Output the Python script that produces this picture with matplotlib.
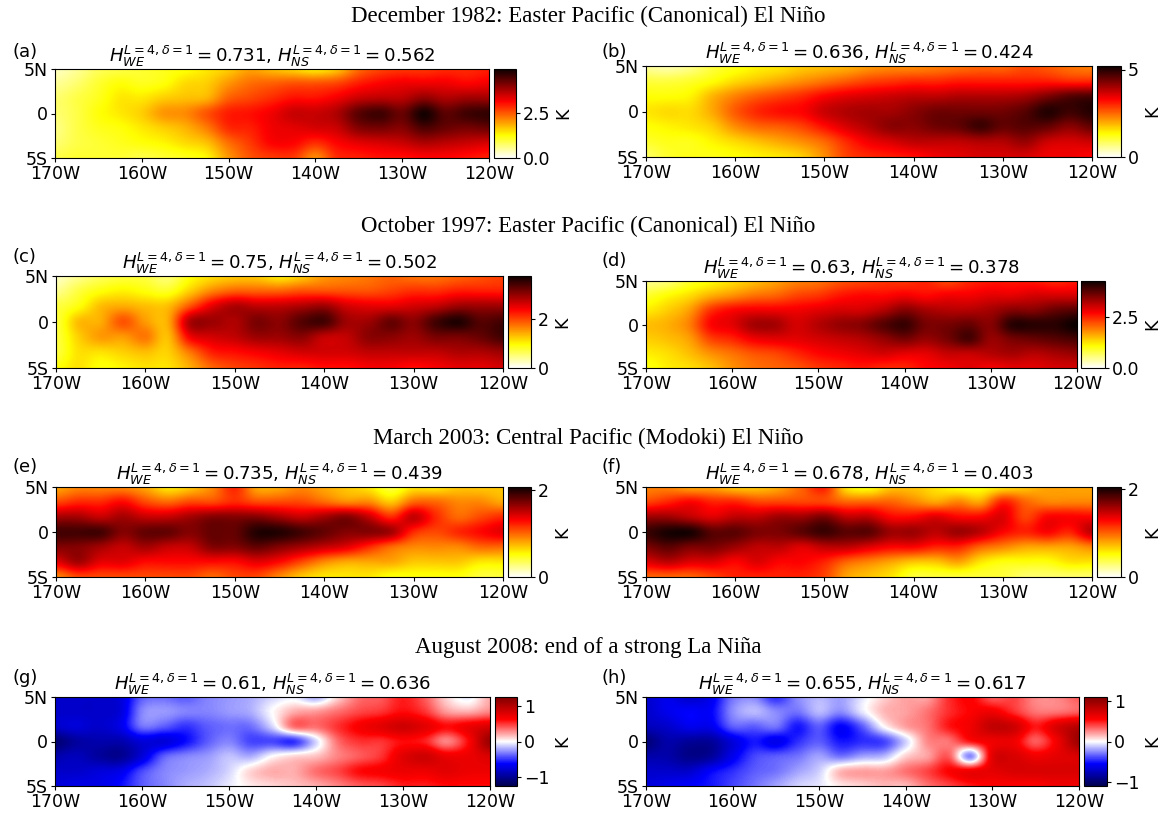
import numpy as np
import matplotlib
matplotlib.use('Agg')
import matplotlib.pyplot as plt

W, H = 1171, 816

# longitudes 170W..120W every 2.5 deg, latitudes 5N..5S (K)
lons = [-170 + 2.5*i for i in range(21)]
lats = [5, 3.33, 1.67, 0, -1.67, -3.33, -5]

sst_a = [
[.3,.5,.8,.9,1.0,1.1,1.2,1.4,1.6,1.9,1.7,1.5,1.3,1.6,2.3,2.6,2.7,2.7,2.8,2.8,2.9],
[.5,.7,1.0,1.2,1.1,1.2,1.5,1.6,2.0,2.3,2.4,2.5,2.5,2.6,2.9,3.1,3.2,3.2,3.2,3.1,3.2],
[.7,.9,1.1,1.4,1.4,1.6,1.7,1.8,2.4,2.6,2.8,3.0,3.0,3.2,3.5,3.6,3.6,3.9,3.7,3.8,3.8],
[.7,.9,1.2,1.4,1.6,2.0,2.1,2.5,2.9,3.0,3.2,3.5,3.5,3.7,4.3,4.5,4.2,4.8,4.3,4.5,4.6],
[.6,.9,1.1,1.2,1.4,1.6,1.8,2.2,2.8,2.9,3.2,3.3,3.4,3.5,4.0,4.1,4.0,4.4,4.2,4.1,4.2],
[.7,.9,1.0,1.1,1.2,1.3,1.5,1.7,2.3,2.7,3.1,3.1,2.8,3.1,3.3,3.4,3.5,3.7,3.6,3.5,3.4],
[.9,1.0,1.0,1.0,.9,1.0,1.1,1.3,2.0,2.5,2.7,2.7,2.1,2.8,2.9,3.0,3.0,3.1,3.1,3.0,2.9]]
sst_b = [
[.5,.4,.6,1.0,1.2,1.4,1.5,1.7,1.8,1.9,2.1,2.2,2.2,2.3,2.4,2.5,2.5,2.7,2.6,2.4,2.3],
[1.0,1.0,1.1,1.3,1.6,1.8,2.0,2.2,2.4,2.6,2.8,2.9,3.0,3.0,3.1,3.1,3.1,3.1,3.1,3.0,3.0],
[1.3,1.3,1.4,1.9,2.3,2.6,2.8,3.0,3.3,3.5,3.6,3.7,3.8,3.8,3.9,3.9,3.9,4.0,4.3,4.6,4.7],
[1.5,1.6,1.6,2.0,2.6,3.0,3.2,3.3,3.7,3.9,4.0,4.0,4.2,4.4,4.4,4.4,4.4,4.6,5.0,4.8,5.0],
[1.3,1.4,1.5,1.7,2.2,2.5,2.6,2.8,3.2,3.6,3.9,4.2,4.2,4.4,4.5,4.8,4.5,4.6,4.5,4.2,4.5],
[1.1,1.2,1.2,1.4,1.6,1.8,2.0,2.2,2.5,3.0,3.4,3.6,3.8,3.8,3.8,3.9,3.9,4.1,3.7,3.6,3.7],
[.8,1.1,1.2,1.2,1.3,1.4,1.5,1.7,2.2,2.8,3.0,3.1,3.2,3.4,3.5,3.6,3.6,3.6,3.4,3.4,3.3]]
sst_c = [
[.2,.4,.6,.7,.7,.5,.9,1.1,1.2,1.2,1.0,1.2,1.5,1.6,1.7,1.8,1.7,1.7,1.8,1.9,2.0],
[.4,.7,.9,1.0,.9,.8,1.2,1.6,1.8,1.8,1.8,1.9,1.9,1.9,1.9,2.0,2.1,2.1,2.2,2.2,2.2],
[.7,.9,1.3,1.4,1.3,1.3,1.9,2.5,2.8,2.7,2.7,2.8,2.9,2.6,2.5,2.5,2.6,2.7,2.9,2.9,2.9],
[.7,1.3,1.4,1.9,1.5,1.4,2.8,2.9,2.8,3.1,3.0,3.3,3.4,2.9,2.9,3.2,3.0,3.4,3.6,3.3,3.4],
[.7,1.2,1.5,1.5,1.7,1.3,2.4,2.6,2.7,2.9,2.9,3.0,2.7,2.7,3.0,3.0,2.9,3.1,3.1,3.2,3.4],
[.7,1.1,1.1,1.2,1.3,1.2,1.7,2.2,2.3,2.4,2.5,2.6,2.6,2.6,2.7,2.7,2.7,2.7,2.8,2.8,2.9],
[.9,1.1,.9,1.0,1.1,1.1,1.4,1.8,2.0,2.1,2.2,2.2,2.3,2.3,2.4,2.4,2.3,2.4,2.5,2.5,2.6]]
sst_d = [
[.5,.6,.9,1.1,1.3,1.5,1.7,1.9,2.0,2.2,2.3,2.4,2.4,2.5,2.3,2.5,2.6,2.6,2.6,2.5,2.6],
[.9,1.1,1.3,1.6,1.8,2.0,2.1,2.3,2.4,2.6,2.7,2.7,2.8,2.7,2.8,2.8,2.9,2.9,3.0,3.0,3.0],
[1.2,1.4,1.7,2.4,2.7,2.8,2.8,2.8,2.9,3.0,3.0,3.2,3.5,3.3,3.2,3.2,3.3,3.5,3.5,3.7,3.8],
[1.5,1.6,1.9,2.7,2.9,3.3,3.3,3.0,3.2,3.4,3.5,3.8,4.0,3.6,3.6,3.7,3.5,4.1,4.1,4.1,4.3],
[1.4,1.5,1.7,2.3,2.5,2.8,2.9,2.9,3.0,3.1,3.2,3.4,3.6,3.4,3.6,3.9,3.4,3.6,3.7,3.8,3.9],
[1.2,1.3,1.5,1.8,2.0,2.2,2.3,2.5,2.7,2.8,2.9,3.0,2.9,2.9,3.1,3.1,3.2,3.3,3.2,3.3,3.4],
[1.0,1.2,1.3,1.5,1.8,2.0,2.1,2.2,2.4,2.5,2.6,2.5,2.5,2.7,2.8,2.9,2.8,2.9,2.9,3.0,3.0]]
sst_e = [
[.8,.9,.9,.9,.8,.6,.7,.9,1.2,.8,.8,.9,.8,.7,.6,.4,.6,.6,.7,.7,.7],
[1.1,1.2,1.2,1.3,1.1,1.0,1.1,1.1,1.2,1.1,1.1,1.1,1.0,.9,.9,.7,1.0,1.0,.9,.9,.8],
[1.6,1.6,1.5,1.6,1.5,1.5,1.6,1.7,1.7,1.7,1.6,1.5,1.6,1.7,1.5,1.2,1.5,1.2,1.0,1.1,1.2],
[1.9,1.9,1.9,1.7,1.8,1.8,1.7,1.8,1.8,2.0,2.0,1.9,1.8,1.7,1.7,1.6,1.2,1.1,1.2,1.3,1.4],
[1.7,1.7,1.6,1.5,1.6,1.5,1.5,1.7,1.7,1.8,1.7,1.6,1.5,1.4,1.2,1.0,.9,.9,.9,1.0,1.0],
[1.4,1.6,1.4,1.4,1.3,1.3,1.3,1.3,1.3,1.4,1.3,1.1,.9,.8,.8,.8,.7,.7,.7,.6,.6],
[.9,1.1,1.1,1.1,1.1,1.1,1.1,1.0,1.1,1.1,.9,.7,.6,.6,.6,.5,.5,.5,.5,.4,.4]]
sst_f = [
[.9,.9,.8,.8,.7,.7,.8,1.0,1.2,.6,.5,.7,.7,.6,.5,.5,.6,.7,.8,.8,.8],
[1.1,1.2,1.3,1.2,1.2,1.1,1.1,1.1,1.1,1.0,1.0,1.0,.9,.8,.9,.8,1.2,1.0,.9,.9,.9],
[1.6,1.6,1.5,1.4,1.5,1.5,1.6,1.6,1.7,1.5,1.5,1.3,1.3,1.4,1.3,1.3,1.4,1.1,1.3,1.3,1.3],
[1.9,2.0,2.0,1.8,1.8,1.7,1.7,1.8,1.9,1.8,1.8,1.6,1.6,1.5,1.6,1.5,1.3,1.2,1.3,1.2,1.5],
[1.7,1.8,1.7,1.7,1.6,1.5,1.5,1.4,1.5,1.5,1.4,1.3,1.3,1.2,1.2,1.0,.9,.8,.8,.8,.9],
[1.4,1.5,1.4,1.4,1.3,1.4,1.3,1.3,1.2,1.0,.9,.8,.7,.7,.8,.6,.5,.5,.5,.6,.6],
[1.0,1.0,1.0,1.1,1.2,1.2,1.2,1.2,1.1,.8,.7,.6,.4,.4,.4,.4,.4,.3,.3,.3,.3]]
sst_g = [
[-.8,-.8,-.8,-.75,-.4,-.35,-.4,-.3,-.25,-.2,-.1,-.05,-.2,.1,.35,.4,.55,.4,.1,-.05,.2],
[-.8,-.8,-.8,-.75,-.3,-.25,-.3,-.3,-.25,-.2,0,.2,.25,.35,.45,.5,.6,.5,.25,.2,.3],
[-.8,-.75,-.8,-.7,-.35,-.4,-.5,-.4,-.35,-.35,-.1,.35,.35,.5,.65,.75,.85,.75,.6,.7,.8],
[-1.1,-.95,-.9,-.9,-.75,-.75,-.6,-.4,-.3,-.45,-.45,-.5,-.1,.35,.5,.5,.6,.55,.3,.6,1.1],
[-.9,-.85,-.95,-1.0,-.75,-.4,-.3,-.25,-.15,-.2,.0,.1,.15,.3,.4,.5,.75,.85,.7,.7,.8],
[-.8,-.8,-.75,-.7,-.45,-.3,-.25,-.2,-.1,.1,.2,.2,.35,.45,.6,.65,.7,.7,.75,.7,.7],
[-.75,-.7,-.7,-.6,-.4,-.3,-.2,-.15,-.05,.05,.1,.15,.2,.3,.4,.45,.55,.55,.6,.6,.6]]
sst_h = [
[-.7,-.6,-.7,-.6,-.3,-.25,-.45,-.25,-.15,-.2,-.05,.1,.2,.2,.45,.55,.35,.4,.25,.25,.35],
[-.7,-.6,-.55,-.55,-.25,-.15,-.25,-.3,-.15,-.25,-.05,.15,.2,.3,.45,.55,.6,.45,.3,.3,.35],
[-.75,-.7,-.6,-.6,-.35,-.35,-.3,-.5,-.35,-.55,-.35,0,.2,.3,.5,.6,.8,.75,.5,.7,.85],
[-.95,-.8,-.85,-.85,-.65,-.5,-.6,-.45,-.35,-.5,-.45,-.4,-.1,.25,.3,.5,.6,.6,.35,.6,.95],
[-.8,-.8,-.9,-.85,-.6,-.4,-.35,-.3,-.2,-.3,-.2,-.15,.1,.2,.35,-.25,.65,.7,.6,.65,.7],
[-.7,-.7,-.7,-.55,-.45,-.35,-.3,-.2,-.1,.15,.2,.2,.3,.4,.55,.6,.65,.7,.7,.7,.7],
[-.65,-.6,-.55,-.5,-.4,-.3,-.2,-.1,-.05,.05,.1,.15,.15,.3,.4,.5,.55,.55,.55,.6,.6]]

letters = ['(a)', '(b)', '(c)', '(d)', '(e)', '(f)', '(g)', '(h)']
fields = [sst_a, sst_b, sst_c, sst_d, sst_e, sst_f, sst_g, sst_h]
h_we = ['0.731', '0.636', '0.75', '0.63', '0.735', '0.678', '0.61', '0.655']
h_ns = ['0.562', '0.424', '0.502', '0.378', '0.439', '0.403', '0.636', '0.617']
vmins = [0, 0, 0, 0, 0, 0, -1.24, -1.09]
vmaxs = [4.9, 5.2, 3.72, 4.3, 2.08, 2.05, 1.24, 1.09]
cbar_ticks = [[0, 2.5], [0, 5], [0, 2], [0, 2.5], [0, 2], [0, 2], [-1, 0, 1], [-1, 0, 1]]
cmaps = ['hot_r']*6 + ['seismic']*2
headings = ['December 1982: Easter Pacific (Canonical) El Ni\u00f1o',
            'October 1997: Easter Pacific (Canonical) El Ni\u00f1o',
            'March 2003: Central Pacific (Modoki) El Ni\u00f1o',
            'August 2008: end of a strong La Ni\u00f1a']
lon_ticks = [-170, -160, -150, -140, -130, -120]
lon_labels = ['170W', '160W', '150W', '140W', '130W', '120W']

# pixel boxes: left, right, top, bottom, cbar left, cbar right
boxes = [(55, 489, 69, 158, 494, 516), (646, 1092, 66, 157, 1097, 1121),
         (56, 503, 276, 368, 508, 531), (646, 1077, 281, 368, 1081, 1105),
         (56, 503, 487, 577, 508, 531), (646, 1092, 487, 577, 1097, 1121),
         (55, 490, 697, 786, 495, 517), (646, 1079, 697, 786, 1084, 1107)]
heading_y = [16, 226, 438, 647]
letter_y = [52, 52, 257, 261, 467, 467, 678, 678]


def px_axes(fig, x0, x1, y0, y1):
    return fig.add_axes([x0/W, 1 - y1/H, (x1 - x0)/W, (y1 - y0)/H])


fig = plt.figure(figsize=(W/100, H/100), dpi=100)
fs = 12.5

for i in range(8):
    x0, x1, y0, y1, c0, c1 = boxes[i]
    ax = px_axes(fig, x0, x1, y0, y1)
    Z = np.array(fields[i])
    im = ax.imshow(Z, cmap=cmaps[i], vmin=vmins[i], vmax=vmaxs[i], aspect='auto',
                   interpolation='catrom',
                   extent=[lons[0] - 1.25, lons[-1] + 1.25, lats[-1] - 0.83, lats[0] + 0.83])
    ax.set_xlim(-170, -120)
    ax.set_ylim(-5, 5)
    ax.set_xticks(lon_ticks)
    ax.set_xticklabels(lon_labels)
    ax.set_yticks([-5, 0, 5])
    ax.set_yticklabels(['5S', '0', '5N'])
    ax.tick_params(labelsize=fs, pad=2, length=3)
    ax.set_title(r'$H_{WE}^{L=4,\delta=1}=%s$, $H_{NS}^{L=4,\delta=1}=%s$' % (h_we[i], h_ns[i]),
                 fontsize=13.1, pad=2)
    fig.text((12 if i % 2 == 0 else 601)/W, 1 - letter_y[i]/H, letters[i], fontsize=13, va='center')

    cax = px_axes(fig, c0, c1, y0, y1)
    cb = fig.colorbar(im, cax=cax)
    cb.set_ticks(cbar_ticks[i])
    cb.ax.tick_params(labelsize=fs, pad=2, length=3)
    cb.set_label('K', fontsize=fs, labelpad=3)

for txt, y in zip(headings, heading_y):
    fig.text(588/W, 1 - y/H, txt, fontsize=16.5, family='Liberation Serif', ha='center', va='center')

fig.savefig('out.png', dpi=100)
